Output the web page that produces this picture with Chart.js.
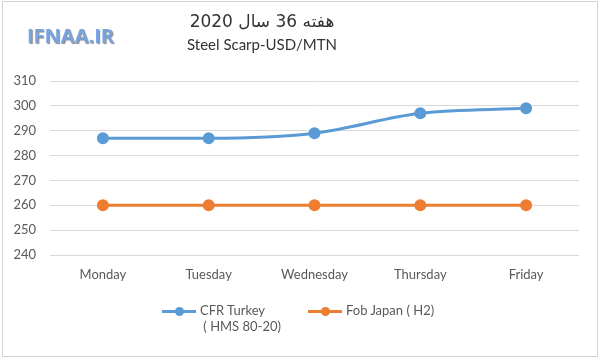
<!DOCTYPE html>
<html>
<head>
<meta charset="utf-8">
<script src="https://cdn.jsdelivr.net/npm/chart.js@4"></script>
<style>
  body { margin: 0; background: #fff; }
  #wrap { position: relative; width: 600px; height: 358px; overflow: hidden; font-family: Lato, "Open Sans", sans-serif; }
  #frame { position: absolute; left: 2px; top: 1px; width: 594px; height: 354px; border: 1px solid #d4d4d4; }
  #chart { position: absolute; left: 0; top: 0; }
  .logo { position: absolute; left: 27px; top: 22px; font: bold 20px "Open Sans", sans-serif; color: #7aa3de;
          text-shadow: 1px 1px 1px #8a8a8a; }
  .t1 { position: absolute; left: 162px; width: 200px; top: 11px; text-align: center; font: 17px "DejaVu Sans", sans-serif; color: #333; }
  .t2 { position: absolute; left: 162px; width: 200px; top: 35px; text-align: center; font: 15px Lato, sans-serif; color: #333; }
  .leg { position: absolute; font: 13px Lato, sans-serif; color: #595959; line-height: 16px; }
  .mk { position: absolute; height: 3px; width: 34px; }
  .mk i { position: absolute; left: 13px; top: -3px; width: 9px; height: 9px; border-radius: 50%; }
</style>
</head>
<body>
<div id="wrap">
  <div id="frame"></div>
  <canvas id="chart" width="600" height="358"></canvas>
  <div class="logo">IFNAA.IR</div>
  <div class="t1" dir="rtl">هفته 36 سال 2020</div>
  <div class="t2">Steel Scarp-USD/MTN</div>
  <div id="legend"></div>
</div>
<script>
// -----------------------------
// DATA
// -----------------------------
const days = ["Monday", "Tuesday", "Wednesday", "Thursday", "Friday"];
const cfrTurkey = [287, 287, 289, 297, 299];
const fobJapan = [260, 260, 260, 260, 260];
const seriesNames = ["CFR Turkey ( HMS 80-20)", "Fob Japan ( H2)"];
const yTicks = [240, 250, 260, 270, 280, 290, 300, 310];

const blue = "#5b9bd5";
const orange = "#ed7d31";

new Chart(document.getElementById("chart"), {
    type: "line",
    data: {
        labels: days,
        datasets: [{
            label: seriesNames[0],
            data: cfrTurkey,
            borderColor: blue,
            backgroundColor: blue,
            borderWidth: 3,
            pointRadius: 4.5,
            cubicInterpolationMode: "monotone",
            fill: false
        }, {
            label: seriesNames[1],
            data: fobJapan,
            borderColor: orange,
            backgroundColor: orange,
            borderWidth: 3,
            pointRadius: 4.5,
            fill: false
        }]
    },
    options: {
        responsive: false,
        animation: false,
        layout: { padding: { top: 81, bottom: 74, left: 0, right: 21 } },
        plugins: { legend: { display: false }, title: { display: false }, tooltip: { enabled: false } },
        scales: {
            x: {
                offset: true,
                grid: { display: false },
                border: { display: false },
                ticks: { color: "#595959", font: { family: "Lato", size: 13 }, padding: 4 },
                afterFit: s => { s.height = 29; }
            },
            y: {
                min: yTicks[0],
                max: yTicks[yTicks.length - 1],
                afterBuildTicks: s => { s.ticks = yTicks.map(v => ({ value: v })); },
                grid: { color: "#d9d9d9", lineWidth: 1, drawTicks: false },
                border: { display: false },
                ticks: { color: "#595959", font: { family: "Lato", size: 13 }, padding: 14 },
                afterFit: s => { s.width = 50; }
            }
        }
    }
});

// HTML legend (the first label wraps onto two lines)
const legend = document.getElementById("legend");
legend.innerHTML =
    '<div class="mk" style="left:162px;top:310px;background:' + blue + '"><i style="background:' + blue + '"></i></div>' +
    '<div class="leg" style="left:200px;top:302px">CFR Turkey<br>&nbsp;( HMS 80-20)</div>' +
    '<div class="mk" style="left:308px;top:310px;background:' + orange + '"><i style="background:' + orange + '"></i></div>' +
    '<div class="leg" style="left:346px;top:302px">Fob Japan ( H2)</div>';
</script>
</body>
</html>
